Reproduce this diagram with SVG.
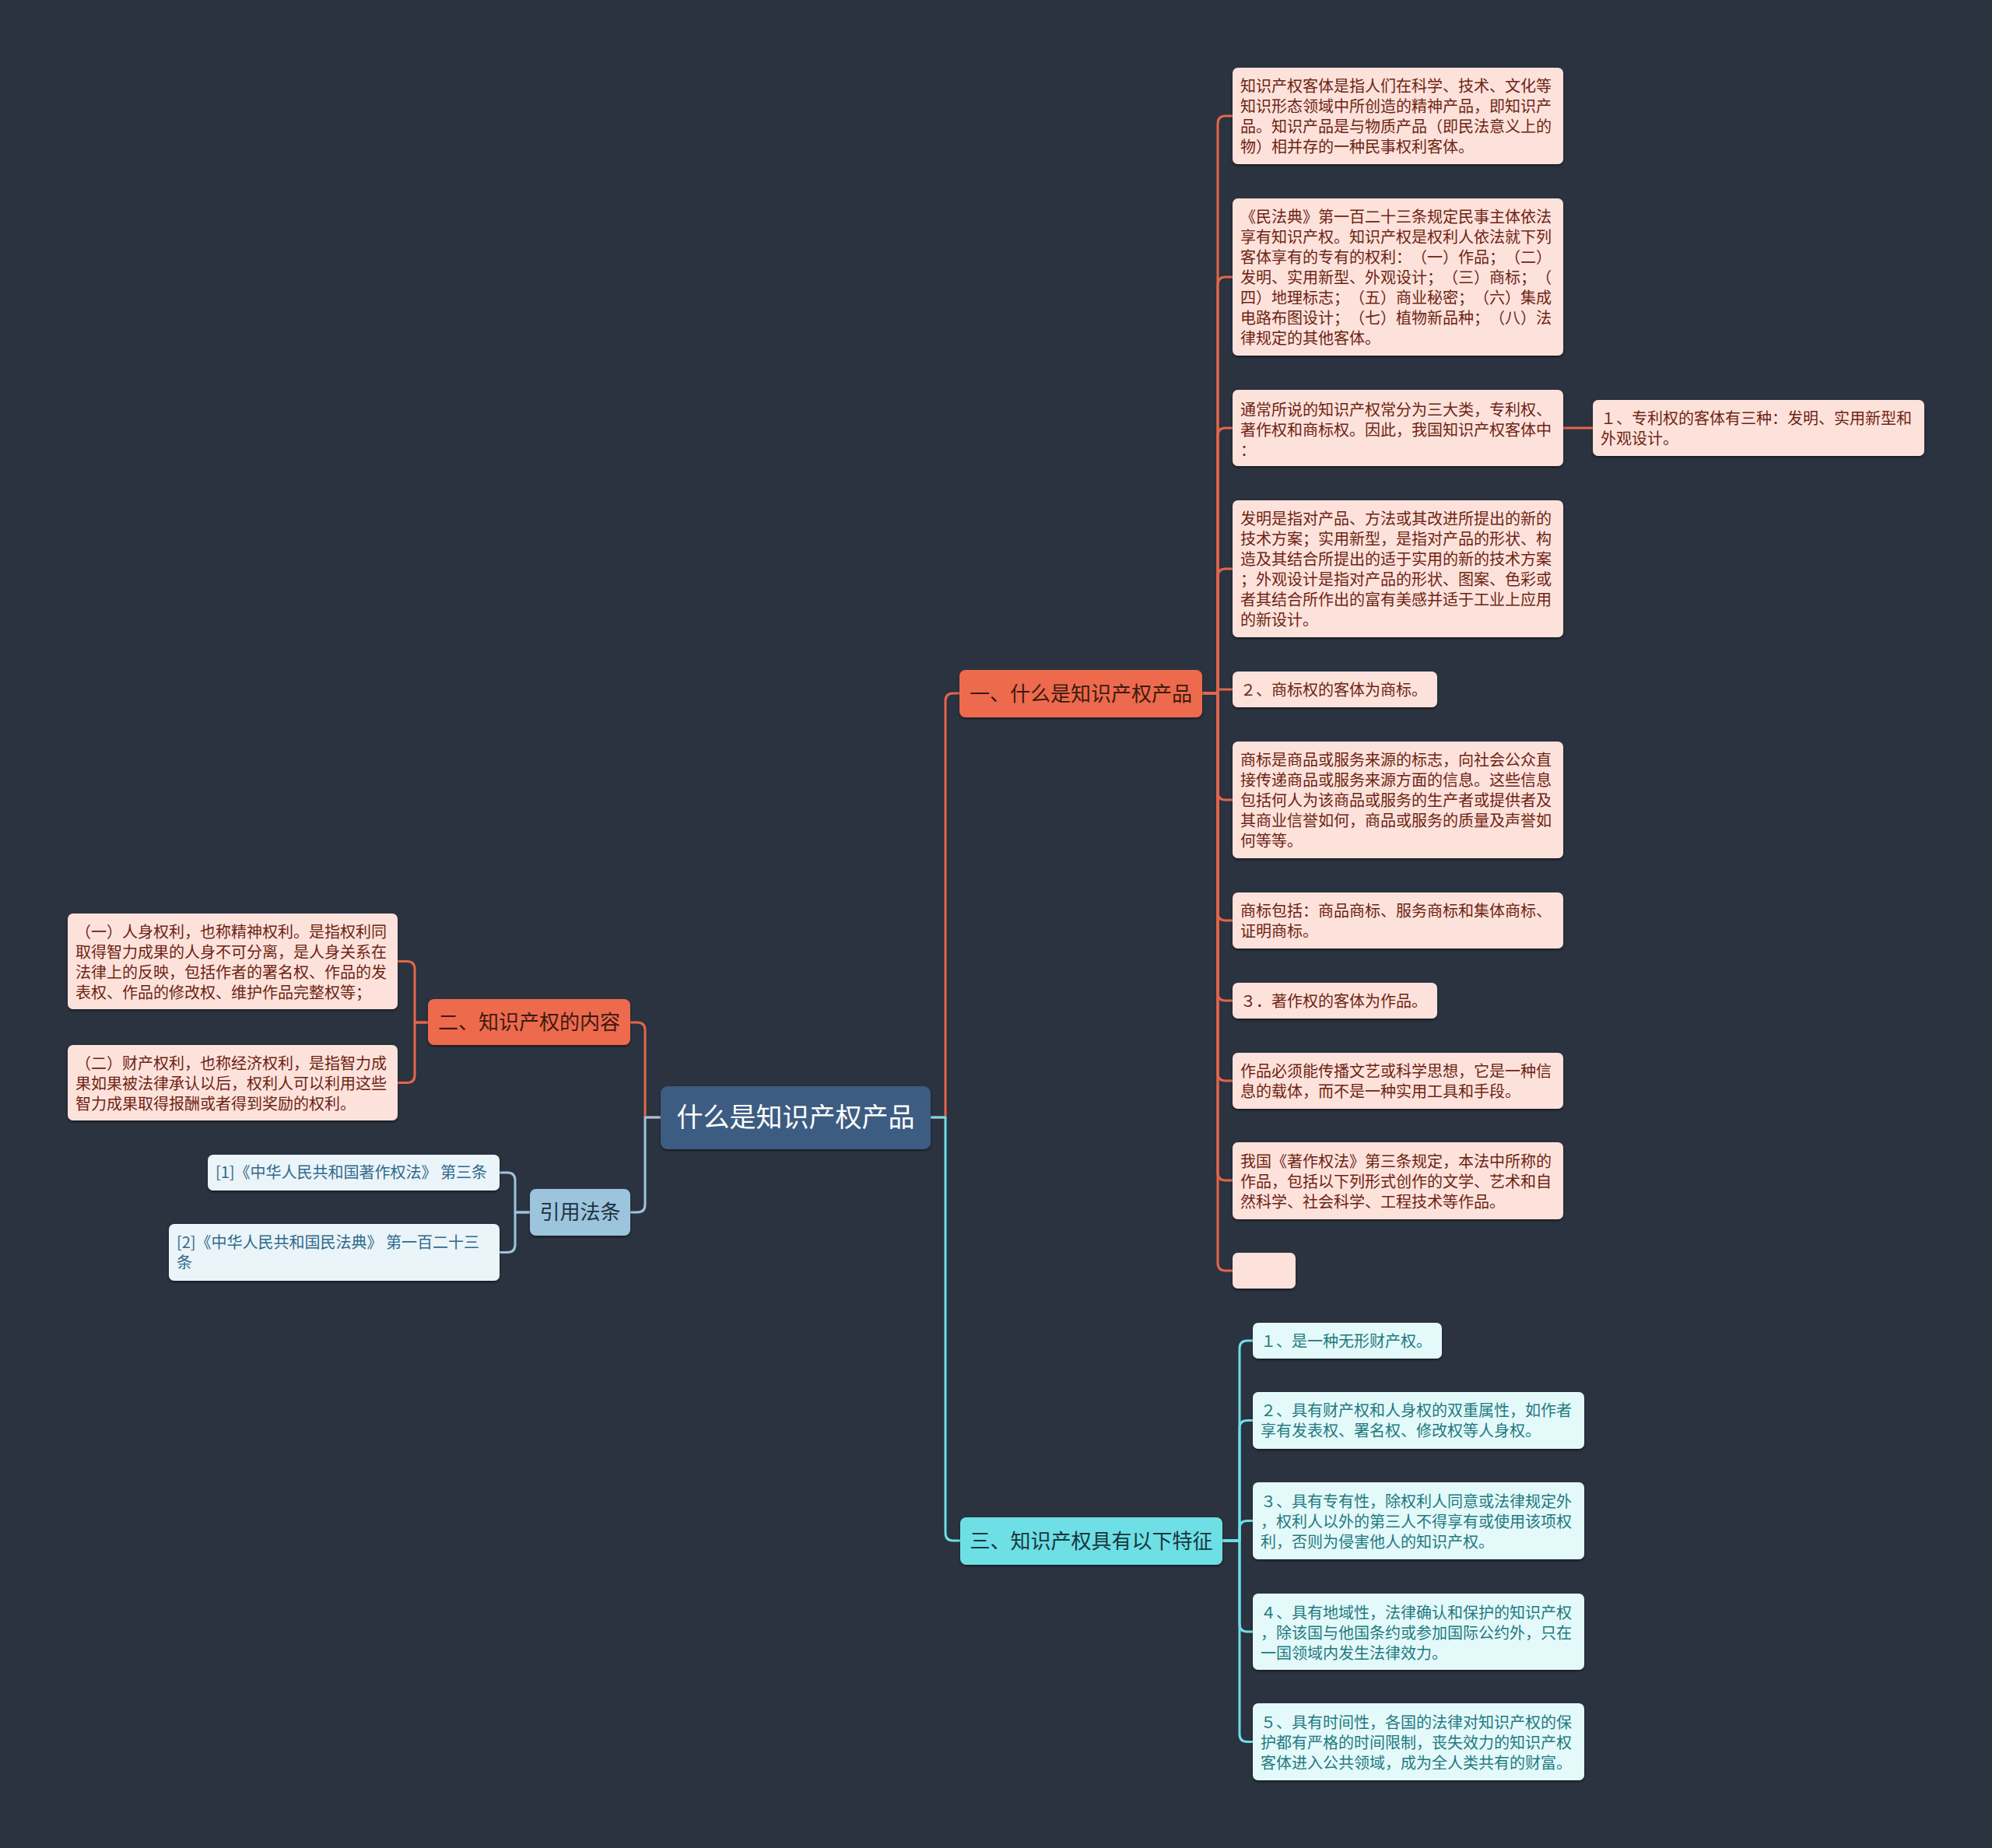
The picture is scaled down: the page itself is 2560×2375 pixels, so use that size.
<svg xmlns="http://www.w3.org/2000/svg" width="2560" height="2375" viewBox="0 0 2560 2375">
<defs>
<filter id="sh" x="-5%" y="-10%" width="110%" height="130%">
<feDropShadow dx="0" dy="2" stdDeviation="1.5" flood-color="#000" flood-opacity="0.45"/>
</filter>
<style>
text{font-family:"Noto Sans CJK SC","Noto Sans",sans-serif;text-spacing-trim:space-all;}
.pk{fill:#fde2db;filter:url(#sh);}
.pkt{fill:#6e2414;font-size:20px;}
.or{fill:#ee6b4d;filter:url(#sh);}
.ort{fill:#3b1a10;font-size:26px;text-anchor:middle;}
.lb{fill:#eaf4f9;filter:url(#sh);}
.lbt{fill:#2f6a8c;font-size:20px;}
.bl{fill:#9cc4dd;filter:url(#sh);}
.blt{fill:#223040;font-size:26px;text-anchor:middle;}
.cy{fill:#6ddfe5;filter:url(#sh);}
.cyt{fill:#18363c;font-size:26px;text-anchor:middle;}
.lc{fill:#e3f9fa;filter:url(#sh);}
.lct{fill:#1f7a80;font-size:20px;}
.root{fill:#3e5b82;filter:url(#sh);}
.roott{fill:#ffffff;font-size:34px;text-anchor:middle;}
.c{fill:none;stroke-width:3;stroke-linecap:round;stroke-linejoin:round;}
.co{stroke:#e3664a;}
.cb{stroke:#9cc4dd;}
.cc{stroke:#6ddfe5;}
</style>
</defs>
<rect x="0" y="0" width="2560" height="2375" fill="#2b3240"/>

<g id="connectors">
<path class="c co" d="M849 1436 H829 V1324 Q829 1314 819 1314 H810"/>
<path class="c cb" d="M849 1436 H829 V1548 Q829 1558 819 1558 H810"/>
<path class="c co" d="M1196 1436 H1215 V901 Q1215 891 1225 891 H1233"/>
<path class="c cc" d="M1196 1436 H1215 V1970 Q1215 1980 1225 1980 H1234"/>
<path class="c co" d="M1545 891 H1565 V159 Q1565 149 1575 149 H1584"/>
<path class="c co" d="M1545 891 H1565 V366 Q1565 356 1575 356 H1584"/>
<path class="c co" d="M1545 891 H1565 V560 Q1565 550 1575 550 H1584"/>
<path class="c co" d="M1545 891 H1565 V741 Q1565 731 1575 731 H1584"/>
<path class="c co" d="M1545 891 H1565 V886 H1584"/>
<path class="c co" d="M1545 891 H1565 V1018 Q1565 1028 1575 1028 H1584"/>
<path class="c co" d="M1545 891 H1565 V1173 Q1565 1183 1575 1183 H1584"/>
<path class="c co" d="M1545 891 H1565 V1276 Q1565 1286 1575 1286 H1584"/>
<path class="c co" d="M1545 891 H1565 V1379 Q1565 1389 1575 1389 H1584"/>
<path class="c co" d="M1545 891 H1565 V1507 Q1565 1517 1575 1517 H1584"/>
<path class="c co" d="M1545 891 H1565 V1623 Q1565 1633 1575 1633 H1584"/>
<path class="c co" d="M2009 550 H2047"/>
<path class="c co" d="M550 1314 H533 V1245.5 Q533 1235.5 523 1235.5 H511"/>
<path class="c co" d="M550 1314 H533 V1381.5 Q533 1391.5 523 1391.5 H511"/>
<path class="c cb" d="M681 1558 H662 V1517 Q662 1507 652 1507 H642"/>
<path class="c cb" d="M681 1558 H662 V1599.5 Q662 1609.5 652 1609.5 H642"/>
<path class="c cc" d="M1571 1980 H1593 V1733 Q1593 1723 1603 1723 H1610"/>
<path class="c cc" d="M1571 1980 H1593 V1835.5 Q1593 1825.5 1603 1825.5 H1610"/>
<path class="c cc" d="M1571 1980 H1593 V1964.5 Q1593 1954.5 1603 1954.5 H1610"/>
<path class="c cc" d="M1571 1980 H1593 V2087 Q1593 2097 1603 2097 H1610"/>
<path class="c cc" d="M1571 1980 H1593 V2228.5 Q1593 2238.5 1603 2238.5 H1610"/>
</g>

<g id="root">
<rect class="root" x="849" y="1396" width="347" height="81" rx="9"/>
<text class="roott" x="1022.5" y="1448">什么是知识产权产品</text>
</g>

<g id="b1">
<rect class="or" x="1233" y="861" width="312" height="61" rx="8"/>
<text class="ort" x="1389" y="901">一、什么是知识产权产品</text>
</g>

<g id="a1">
<rect class="pk" x="1584" y="87" width="425" height="124" rx="7"/>
<text class="pkt" x="1594" y="118"><tspan x="1594">知识产权客体是指人们在科学、技术、文化等</tspan><tspan x="1594" dy="26">知识形态领域中所创造的精神产品，即知识产</tspan><tspan x="1594" dy="26">品。知识产品是与物质产品（即民法意义上的</tspan><tspan x="1594" dy="26">物）相并存的一种民事权利客体。</tspan></text>
</g>
<g id="a2">
<rect class="pk" x="1584" y="255" width="425" height="202" rx="7"/>
<text class="pkt" x="1594" y="286"><tspan x="1594">《民法典》第一百二十三条规定民事主体依法</tspan><tspan x="1594" dy="26">享有知识产权。知识产权是权利人依法就下列</tspan><tspan x="1594" dy="26">客体享有的专有的权利：（一）作品；（二）</tspan><tspan x="1594" dy="26">发明、实用新型、外观设计；（三）商标；（</tspan><tspan x="1594" dy="26">四）地理标志；（五）商业秘密；（六）集成</tspan><tspan x="1594" dy="26">电路布图设计；（七）植物新品种；（八）法</tspan><tspan x="1594" dy="26">律规定的其他客体。</tspan></text>
</g>
<g id="a3">
<rect class="pk" x="1584" y="501" width="425" height="98" rx="7"/>
<text class="pkt" x="1594" y="534"><tspan x="1594">通常所说的知识产权常分为三大类，专利权、</tspan><tspan x="1594" dy="26">著作权和商标权。因此，我国知识产权客体中</tspan><tspan x="1594" dy="26">：</tspan></text>
</g>
<g id="a3a">
<rect class="pk" x="2047" y="514" width="426" height="72" rx="7"/>
<text class="pkt" x="2057" y="545"><tspan x="2057">１、专利权的客体有三种：发明、实用新型和</tspan><tspan x="2057" dy="26">外观设计。</tspan></text>
</g>
<g id="a4">
<rect class="pk" x="1584" y="643" width="425" height="176" rx="7"/>
<text class="pkt" x="1594" y="674"><tspan x="1594">发明是指对产品、方法或其改进所提出的新的</tspan><tspan x="1594" dy="26">技术方案；实用新型，是指对产品的形状、构</tspan><tspan x="1594" dy="26">造及其结合所提出的适于实用的新的技术方案</tspan><tspan x="1594" dy="26">；外观设计是指对产品的形状、图案、色彩或</tspan><tspan x="1594" dy="26">者其结合所作出的富有美感并适于工业上应用</tspan><tspan x="1594" dy="26">的新设计。</tspan></text>
</g>
<g id="a5">
<rect class="pk" x="1584" y="863" width="263" height="46" rx="7"/>
<text class="pkt" x="1594" y="894">２、商标权的客体为商标。</text>
</g>
<g id="a6">
<rect class="pk" x="1584" y="953" width="425" height="150" rx="7"/>
<text class="pkt" x="1594" y="984"><tspan x="1594">商标是商品或服务来源的标志，向社会公众直</tspan><tspan x="1594" dy="26">接传递商品或服务来源方面的信息。这些信息</tspan><tspan x="1594" dy="26">包括何人为该商品或服务的生产者或提供者及</tspan><tspan x="1594" dy="26">其商业信誉如何，商品或服务的质量及声誉如</tspan><tspan x="1594" dy="26">何等等。</tspan></text>
</g>
<g id="a7">
<rect class="pk" x="1584" y="1147" width="425" height="72" rx="7"/>
<text class="pkt" x="1594" y="1178"><tspan x="1594">商标包括：商品商标、服务商标和集体商标、</tspan><tspan x="1594" dy="26">证明商标。</tspan></text>
</g>
<g id="a8">
<rect class="pk" x="1584" y="1263" width="263" height="46" rx="7"/>
<text class="pkt" x="1594" y="1294">３．著作权的客体为作品。</text>
</g>
<g id="a9">
<rect class="pk" x="1584" y="1353" width="425" height="72" rx="7"/>
<text class="pkt" x="1594" y="1384"><tspan x="1594">作品必须能传播文艺或科学思想，它是一种信</tspan><tspan x="1594" dy="26">息的载体，而不是一种实用工具和手段。</tspan></text>
</g>
<g id="a10">
<rect class="pk" x="1584" y="1468" width="425" height="99" rx="7"/>
<text class="pkt" x="1594" y="1500"><tspan x="1594">我国《著作权法》第三条规定，本法中所称的</tspan><tspan x="1594" dy="26">作品，包括以下列形式创作的文学、艺术和自</tspan><tspan x="1594" dy="26">然科学、社会科学、工程技术等作品。</tspan></text>
</g>
<g id="a11">
<rect class="pk" x="1584" y="1610" width="81" height="46" rx="7"/>
</g>

<g id="b2">
<rect class="or" x="550" y="1284" width="260" height="59" rx="8"/>
<text class="ort" x="680" y="1323">二、知识产权的内容</text>
</g>
<g id="b2c1">
<rect class="pk" x="87" y="1174" width="424" height="123" rx="7"/>
<text class="pkt" x="97" y="1205"><tspan x="97">（一）人身权利，也称精神权利。是指权利同</tspan><tspan x="97" dy="26">取得智力成果的人身不可分离，是人身关系在</tspan><tspan x="97" dy="26">法律上的反映，包括作者的署名权、作品的发</tspan><tspan x="97" dy="26">表权、作品的修改权、维护作品完整权等；</tspan></text>
</g>
<g id="b2c2">
<rect class="pk" x="87" y="1343" width="424" height="97" rx="7"/>
<text class="pkt" x="97" y="1374"><tspan x="97">（二）财产权利，也称经济权利，是指智力成</tspan><tspan x="97" dy="26">果如果被法律承认以后，权利人可以利用这些</tspan><tspan x="97" dy="26">智力成果取得报酬或者得到奖励的权利。</tspan></text>
</g>

<g id="ref">
<rect class="bl" x="681" y="1528" width="129" height="60" rx="8"/>
<text class="blt" x="745.5" y="1567">引用法条</text>
</g>
<g id="ref1">
<rect class="lb" x="267" y="1484" width="375" height="46" rx="7"/>
<text class="lbt" x="277" y="1514">[1]《中华人民共和国著作权法》 第三条</text>
</g>
<g id="ref2">
<rect class="lb" x="217" y="1573" width="425" height="73" rx="7"/>
<text class="lbt" x="227" y="1604"><tspan x="227">[2]《中华人民共和国民法典》 第一百二十三</tspan><tspan x="227" dy="26">条</tspan></text>
</g>

<g id="b3">
<rect class="cy" x="1234" y="1950" width="337" height="61" rx="8"/>
<text class="cyt" x="1402.5" y="1990">三、知识产权具有以下特征</text>
</g>
<g id="d1">
<rect class="lc" x="1610" y="1700" width="243" height="46" rx="7"/>
<text class="lct" x="1620" y="1731">１、是一种无形财产权。</text>
</g>
<g id="d2">
<rect class="lc" x="1610" y="1789" width="426" height="73" rx="7"/>
<text class="lct" x="1620" y="1820"><tspan x="1620">２、具有财产权和人身权的双重属性，如作者</tspan><tspan x="1620" dy="26">享有发表权、署名权、修改权等人身权。</tspan></text>
</g>
<g id="d3">
<rect class="lc" x="1610" y="1905" width="426" height="99" rx="7"/>
<text class="lct" x="1620" y="1937"><tspan x="1620">３、具有专有性，除权利人同意或法律规定外</tspan><tspan x="1620" dy="26">，权利人以外的第三人不得享有或使用该项权</tspan><tspan x="1620" dy="26">利，否则为侵害他人的知识产权。</tspan></text>
</g>
<g id="d4">
<rect class="lc" x="1610" y="2048" width="426" height="98" rx="7"/>
<text class="lct" x="1620" y="2080"><tspan x="1620">４、具有地域性，法律确认和保护的知识产权</tspan><tspan x="1620" dy="26">，除该国与他国条约或参加国际公约外，只在</tspan><tspan x="1620" dy="26">一国领域内发生法律效力。</tspan></text>
</g>
<g id="d5">
<rect class="lc" x="1610" y="2189" width="426" height="99" rx="7"/>
<text class="lct" x="1620" y="2221"><tspan x="1620">５、具有时间性，各国的法律对知识产权的保</tspan><tspan x="1620" dy="26">护都有严格的时间限制，丧失效力的知识产权</tspan><tspan x="1620" dy="26">客体进入公共领域，成为全人类共有的财富。</tspan></text>
</g>
</svg>
